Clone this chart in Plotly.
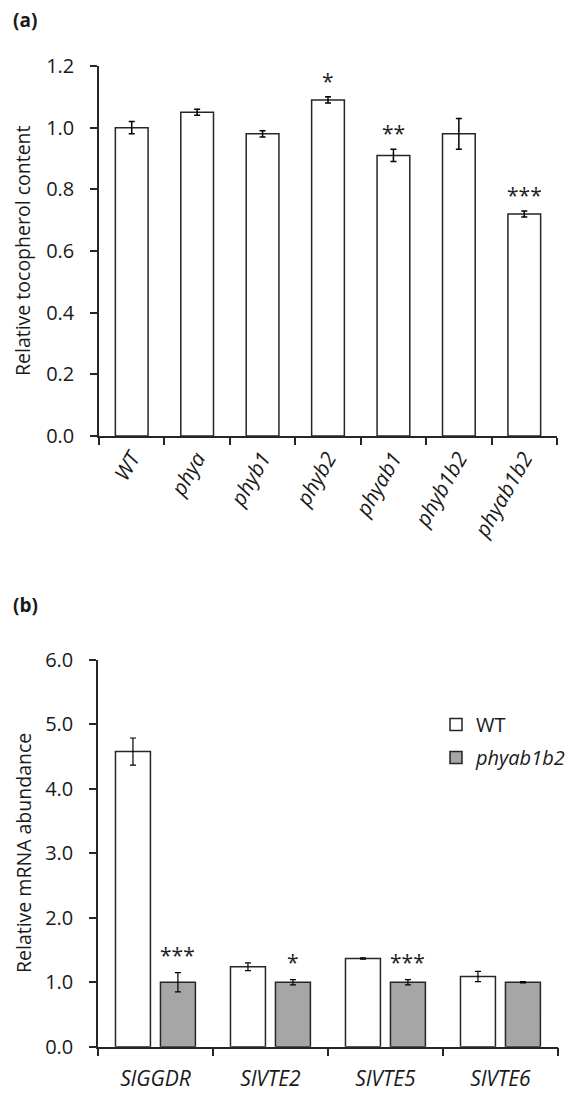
import plotly.graph_objects as go

# ---------------- data ----------------
genotypes = ["WT", "phya", "phyb1", "phyb2", "phyab1", "phyb1b2", "phyab1b2"]
toco_mean = [1.00, 1.05, 0.98, 1.09, 0.91, 0.98, 0.72]
toco_err = [0.02, 0.01, 0.01, 0.01, 0.02, 0.05, 0.01]
toco_sig = ["", "", "", "*", "**", "", "***"]

genes = ["SlGGDR", "SlVTE2", "SlVTE5", "SlVTE6"]
wt_mrna = [4.58, 1.24, 1.37, 1.09]
wt_err = [0.21, 0.06, 0.01, 0.08]
mut_mrna = [1.00, 1.00, 1.00, 1.00]
mut_err = [0.15, 0.04, 0.04, 0.01]
mut_sig = ["***", "*", "***", ""]

# page is 574x1093; the html body has an 8px default margin
OFF = 8
W, H = 574 - OFF, 1093 - OFF
FONT = "Open Sans"
LINE = "#262626"
TXT = "#1a1a1a"


def px_x(p):
    return (p - OFF) / W


def px_y(p):
    return 1 - (p - OFF) / H


fig = go.Figure()

# panel (a)
fig.add_trace(go.Bar(
    x=genotypes, y=toco_mean, width=0.5, offset=-0.25,
    marker=dict(color="white", line=dict(color=LINE, width=1.5)),
    error_y=dict(type="data", array=toco_err, color="black", thickness=1.5, width=3),
    xaxis="x", yaxis="y", showlegend=False,
))

# panel (b)
fig.add_trace(go.Bar(
    x=genes, y=wt_mrna, width=0.304, offset=-0.348, name="WT",
    marker=dict(color="white", line=dict(color=LINE, width=1.5)),
    error_y=dict(type="data", array=wt_err, color="black", thickness=1.2, width=3),
    xaxis="x2", yaxis="y2", legendgroup="a",
))
fig.add_trace(go.Bar(
    x=genes, y=mut_mrna, width=0.304, offset=0.043, name="<i>phyab1b2</i>",
    marker=dict(color="#A6A6A6", line=dict(color=LINE, width=1.5)),
    error_y=dict(type="data", array=mut_err, color="black", thickness=1.2, width=3),
    xaxis="x2", yaxis="y2", legendgroup="b",
))

annotations = []
for g, m, e, s in zip(genotypes, toco_mean, toco_err, toco_sig):
    if s:
        annotations.append(dict(x=g, y=m + e, xref="x", yref="y", text=s, showarrow=False,
                                yanchor="bottom", yshift=0, font=dict(size=21, family=FONT, color="#222")))
for g, m, e, s in zip(genes, mut_mrna, mut_err, mut_sig):
    if s:
        annotations.append(dict(x=g, y=m + e, xref="x2", yref="y2", text=s, showarrow=False,
                                xshift=22.4, yanchor="bottom", yshift=2,
                                font=dict(size=21, family=FONT, color="#222")))

# panel labels and y titles
annotations += [
    dict(x=px_x(11), y=px_y(20), xref="paper", yref="paper", text="<b>(a)</b>", showarrow=False,
         xanchor="left", yanchor="middle", font=dict(size=19, family=FONT, color=TXT)),
    dict(x=px_x(11), y=px_y(605), xref="paper", yref="paper", text="<b>(b)</b>", showarrow=False,
         xanchor="left", yanchor="middle", font=dict(size=19, family=FONT, color=TXT)),
    dict(x=px_x(23), y=px_y(251), xref="paper", yref="paper", text="Relative tocopherol content",
         textangle=-90, showarrow=False, xanchor="center", yanchor="middle",
         font=dict(size=19.5, family=FONT, color=TXT)),
    dict(x=px_x(23), y=px_y(853), xref="paper", yref="paper", text="Relative mRNA abundance",
         textangle=-90, showarrow=False, xanchor="center", yanchor="middle",
         font=dict(size=19.5, family=FONT, color=TXT)),
]

axis_common = dict(showline=True, linecolor=LINE, linewidth=1.5, ticks="outside",
                   tickcolor=LINE, tickwidth=1.5, showgrid=False, zeroline=False,
                   automargin=False)

fig.update_layout(
    width=W, height=H,
    margin=dict(l=0, r=0, t=0, b=0),
    paper_bgcolor="white", plot_bgcolor="white",
    font=dict(family=FONT, color=TXT, size=19),
    barmode="group",
    xaxis=dict(domain=[px_x(99), px_x(557)], anchor="y", type="category",
               range=[-0.5, 6.5], tickson="boundaries", ticklen=7, tickangle=-60,
               tickfont=dict(size=21, style="italic", family=FONT, color=TXT), **axis_common),
    yaxis=dict(domain=[px_y(436), px_y(66)], anchor="x", range=[0, 1.2], dtick=0.2,
               tickformat=".1f", ticklen=7, ticklabelstandoff=12,
               tickfont=dict(size=20, family=FONT, color=TXT), **axis_common),
    xaxis2=dict(domain=[px_x(98), px_x(558)], anchor="y2", type="category",
                range=[-0.5, 3.5], tickson="boundaries", ticklen=8, ticklabelstandoff=12,
                tickfont=dict(size=21, style="italic", family=FONT, color=TXT), **axis_common),
    yaxis2=dict(domain=[px_y(1046.7), px_y(660)], anchor="x2", range=[0, 6], dtick=1,
                tickformat=".1f", ticklen=7, ticklabelstandoff=12,
                tickfont=dict(size=20, family=FONT, color=TXT), **axis_common),
    legend=dict(x=px_x(436), y=px_y(705), xanchor="left", yanchor="top",
                bgcolor="rgba(0,0,0,0)", font=dict(size=20, family=FONT, color=TXT),
                traceorder="grouped", tracegroupgap=4, itemwidth=30),
    annotations=annotations,
)

fig.write_html("out.html")
